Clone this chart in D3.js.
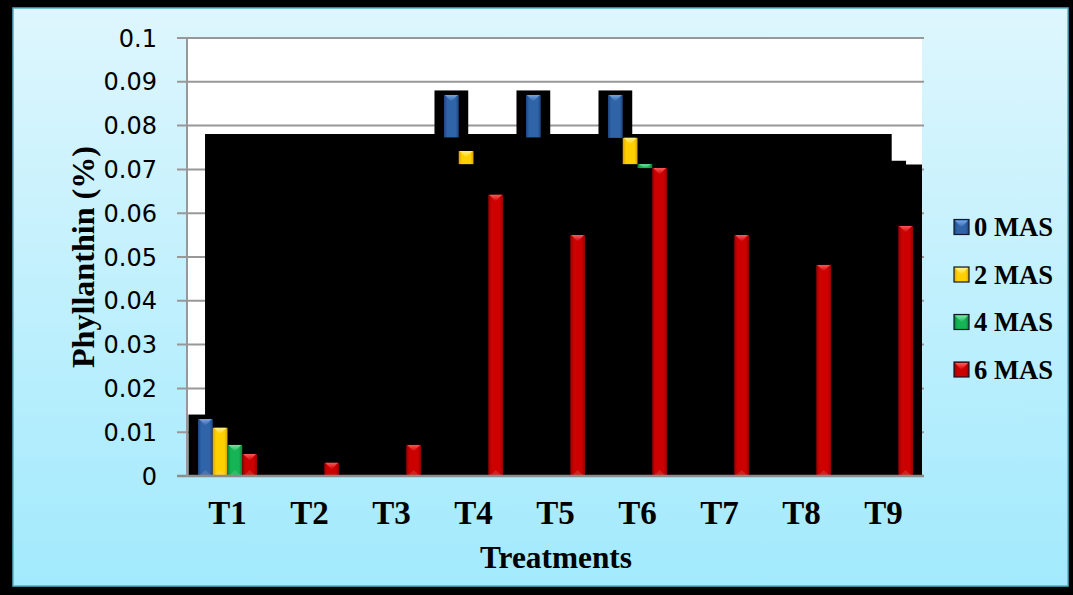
<!DOCTYPE html>
<html>
<head>
<meta charset="utf-8">
<script src="https://cdn.jsdelivr.net/npm/d3@7/dist/d3.min.js"></script>
<style>
  html, body { margin: 0; padding: 0; background: #000; }
  svg { display: block; }
</style>
</head>
<body>
<svg id="chart" width="1073" height="595"></svg>
<script>
// Treatments on the x axis
const categories = ["T1", "T2", "T3", "T4", "T5", "T6", "T7", "T8", "T9"];
const seriesNames = ["0 MAS", "2 MAS", "4 MAS", "6 MAS"];

// Phyllanthin (%) — top of each bar
const mas0 = [0.013, 0, 0, 0.087, 0.087, 0.087, 0, 0, 0];
const mas2 = [0.011, 0, 0, 0.0742, 0, 0.0772, 0, 0, 0];
const mas4 = [0.0071, 0, 0, 0, 0, 0.0712, 0, 0, 0];
const mas6 = [0.005, 0.003, 0.0071, 0.0642, 0.055, 0.0703, 0.055, 0.0482, 0.0571];

// lower end of the visible part of each bar (the rest sits in the dark backdrop)
const mas0Low = [0, 0, 0, 0.0773, 0.0773, 0.0772, 0, 0, 0];
const mas2Low = [0, 0, 0, 0.0712, 0, 0.0712, 0, 0, 0];
const mas4Low = [0, 0, 0, 0, 0, 0.0703, 0, 0, 0];
const mas6Low = [0, 0, 0, 0, 0, 0, 0, 0, 0];

// dark backdrop steps: [from category index, to category index, level]
const backdropSteps = [
  [0.226, 8.60, 0.0781],
  [8.60, 8.775, 0.0720],
  [8.775, 9.0, 0.0711]
];

const yTicks = [0, 0.01, 0.02, 0.03, 0.04, 0.05, 0.06, 0.07, 0.08, 0.09, 0.1];
const yTickLabels = ["0", "0.01", "0.02", "0.03", "0.04", "0.05", "0.06", "0.07", "0.08", "0.09", "0.1"];

const seriesValues = [mas0, mas2, mas4, mas6];
const seriesLows = [mas0Low, mas2Low, mas4Low, mas6Low];

// bar colours: [edge, centre, bevel highlight]
const palette = [
  ["#1d4680", "#3064a8", "#78a8e8"],
  ["#d6a400", "#ffd000", "#fff38a"],
  ["#0a8038", "#16b454", "#7ce8a8"],
  ["#960000", "#cc0000", "#ff5c5c"]
];

const svg = d3.select("#chart");
const W = 1073, H = 595;
const plot = { left: 188, right: 922, top: 38, bottom: 476 };
const serif = "'Liberation Serif', 'Times New Roman', serif";

const defs = svg.append("defs");
const bg = defs.append("linearGradient").attr("id", "bgGrad")
  .attr("x1", 0).attr("y1", 0).attr("x2", 0).attr("y2", 1);
bg.append("stop").attr("offset", 0).attr("stop-color", "#def6fd");
bg.append("stop").attr("offset", 1).attr("stop-color", "#a2eafd");

palette.forEach((c, i) => {
  const g = defs.append("linearGradient").attr("id", "barGrad" + i)
    .attr("x1", 0).attr("y1", 0).attr("x2", 1).attr("y2", 0);
  g.append("stop").attr("offset", 0).attr("stop-color", c[0]);
  g.append("stop").attr("offset", 0.22).attr("stop-color", c[1]);
  g.append("stop").attr("offset", 0.78).attr("stop-color", c[1]);
  g.append("stop").attr("offset", 1).attr("stop-color", c[0]);
  const t = defs.append("linearGradient").attr("id", "bevelGrad" + i)
    .attr("x1", 0).attr("y1", 0).attr("x2", 0).attr("y2", 1);
  t.append("stop").attr("offset", 0).attr("stop-color", c[2]);
  t.append("stop").attr("offset", 1).attr("stop-color", c[1]);
});

defs.append("clipPath").attr("id", "plotClip")
  .append("rect")
  .attr("x", plot.left).attr("y", plot.top - 6)
  .attr("width", plot.right - plot.left).attr("height", plot.bottom - plot.top + 6);

// frame
svg.append("rect").attr("x", 0).attr("y", 0).attr("width", W).attr("height", H).attr("fill", "#000");
svg.append("rect").attr("x", 13).attr("y", 8).attr("width", 1055).attr("height", 578)
  .attr("fill", "url(#bgGrad)").attr("stroke", "#4fb3c8").attr("stroke-width", 1.5);

// scales
const y = d3.scaleLinear().domain([0, 0.1]).range([plot.bottom, plot.top]);
const x0 = d3.scaleBand().domain(categories).range([186.5, 924.5])
  .paddingInner(0.28).paddingOuter(0.14);
const x1 = d3.scaleBand().domain(d3.range(seriesNames.length)).range([0, x0.bandwidth()]);
const xi = d3.scaleLinear().domain([0, categories.length]).range([186.5, 924.5]);

// plot area
svg.append("rect").attr("x", plot.left).attr("y", plot.top)
  .attr("width", plot.right - plot.left).attr("height", plot.bottom - plot.top)
  .attr("fill", "#fff");

// gridlines + left ticks
svg.append("g").selectAll("line").data(yTicks).join("line")
  .attr("x1", 177).attr("x2", plot.right + 2)
  .attr("y1", d => y(d)).attr("y2", d => y(d))
  .attr("stroke", "#989898").attr("stroke-width", 2);

// dark backdrop: one stepped outline so there are no seams between steps
const back = svg.append("g").attr("clip-path", "url(#plotClip)");
const stepPath = d3.path();
stepPath.moveTo(xi(backdropSteps[0][0]), y(0));
backdropSteps.forEach(s => {
  stepPath.lineTo(xi(s[0]), y(s[2]));
  stepPath.lineTo(xi(s[1]), y(s[2]));
});
stepPath.lineTo(xi(backdropSteps[backdropSteps.length - 1][1]), y(0));
stepPath.closePath();
back.append("path").attr("d", stepPath.toString()).attr("fill", "#000");

// halo behind the 0 MAS bars
const haloPadX = 9.5, haloPadTop = 4.5;
back.selectAll("rect.halo")
  .data(categories.map((c, i) => ({ c, v: mas0[i] })).filter(d => d.v > 0))
  .join("rect").attr("class", "halo")
  .attr("x", d => x0(d.c) + x1(0) - haloPadX)
  .attr("width", x1.bandwidth() + 2 * haloPadX)
  .attr("y", d => y(d.v) - haloPadTop)
  .attr("height", d => y(0) - y(d.v) + haloPadTop + 2)
  .attr("fill", "#000");

// bars
const barData = [];
seriesValues.forEach((vals, s) => {
  vals.forEach((v, i) => {
    if (v > 0) barData.push({ s, c: categories[i], v, low: seriesLows[s][i] });
  });
});

const bars = svg.append("g").selectAll("g.bar").data(barData).join("g").attr("class", "bar");
bars.append("rect")
  .attr("x", d => x0(d.c) + x1(d.s))
  .attr("width", x1.bandwidth())
  .attr("y", d => y(d.v))
  .attr("height", d => y(d.low) - y(d.v))
  .attr("fill", d => `url(#barGrad${d.s})`);
bars.append("path")
  .attr("d", d => {
    const bx = x0(d.c) + x1(d.s), bw = x1.bandwidth();
    const top = y(d.v);
    const h = Math.min(bw * 0.45, y(d.low) - y(d.v));
    return `M${bx + 1},${top}L${bx + bw - 1},${top}L${bx + bw / 2},${top + h}Z`;
  })
  .attr("fill", d => `url(#bevelGrad${d.s})`)
  .attr("opacity", 0.95);
// soft foot highlight on bars standing on the axis
bars.filter(d => d.low === 0 && y(0) - y(d.v) > 14).append("path")
  .attr("d", d => {
    const bx = x0(d.c) + x1(d.s), bw = x1.bandwidth();
    const b = y(0);
    return `M${bx + 1},${b}L${bx + bw - 1},${b}L${bx + bw / 2},${b - bw * 0.4}Z`;
  })
  .attr("fill", "#ffffff").attr("opacity", 0.12);

// baseline and y axis line
svg.append("line").attr("x1", 177).attr("x2", plot.right + 2)
  .attr("y1", y(0)).attr("y2", y(0)).attr("stroke", "#8c8c8c").attr("stroke-width", 2.5);
svg.append("line").attr("x1", 187).attr("x2", 187)
  .attr("y1", plot.top).attr("y2", plot.bottom + 1).attr("stroke", "#989898").attr("stroke-width", 2);

// y tick labels
svg.append("g").selectAll("text").data(yTicks).join("text")
  .attr("x", 157).attr("y", d => y(d))
  .attr("dy", "0.36em")
  .attr("text-anchor", "end")
  .attr("font-family", "'DejaVu Sans', sans-serif")
  .attr("font-size", 24)
  .attr("fill", "#000")
  .text((d, i) => yTickLabels[i]);

// x category labels
svg.append("g").selectAll("text").data(categories).join("text")
  .attr("x", d => x0(d) + x0.bandwidth() / 2)
  .attr("y", 524)
  .attr("text-anchor", "middle")
  .attr("font-family", serif)
  .attr("font-weight", "bold")
  .attr("font-size", 33)
  .attr("fill", "#000")
  .text(d => d);

// axis titles
svg.append("text")
  .attr("x", 556).attr("y", 568)
  .attr("text-anchor", "middle")
  .attr("font-family", serif)
  .attr("font-weight", "bold").attr("font-size", 32)
  .attr("textLength", 152).attr("lengthAdjust", "spacingAndGlyphs")
  .text("Treatments");

svg.append("text")
  .attr("transform", "translate(94,257) rotate(-90)")
  .attr("text-anchor", "middle")
  .attr("font-family", serif)
  .attr("font-weight", "bold").attr("font-size", 31)
  .attr("textLength", 222).attr("lengthAdjust", "spacingAndGlyphs")
  .text("Phyllanthin (%)");

// legend
const legend = svg.append("g").selectAll("g").data(seriesNames).join("g")
  .attr("transform", (d, i) => `translate(954,${227 + i * 47.5})`);
legend.append("rect")
  .attr("x", 0).attr("y", -7.5).attr("width", 15).attr("height", 15)
  .attr("fill", (d, i) => `url(#barGrad${i})`)
  .attr("stroke", "#111a2a").attr("stroke-width", 1.2);
legend.append("path")
  .attr("d", "M1,-6.5L14,-6.5L7.5,0.5Z")
  .attr("fill", (d, i) => `url(#bevelGrad${i})`);
legend.append("text")
  .attr("x", 20).attr("y", 0).attr("dy", "0.35em")
  .attr("font-family", serif)
  .attr("font-weight", "bold").attr("font-size", 27)
  .attr("textLength", 79).attr("lengthAdjust", "spacingAndGlyphs")
  .attr("fill", "#000")
  .text(d => d);
</script>
</body>
</html>
